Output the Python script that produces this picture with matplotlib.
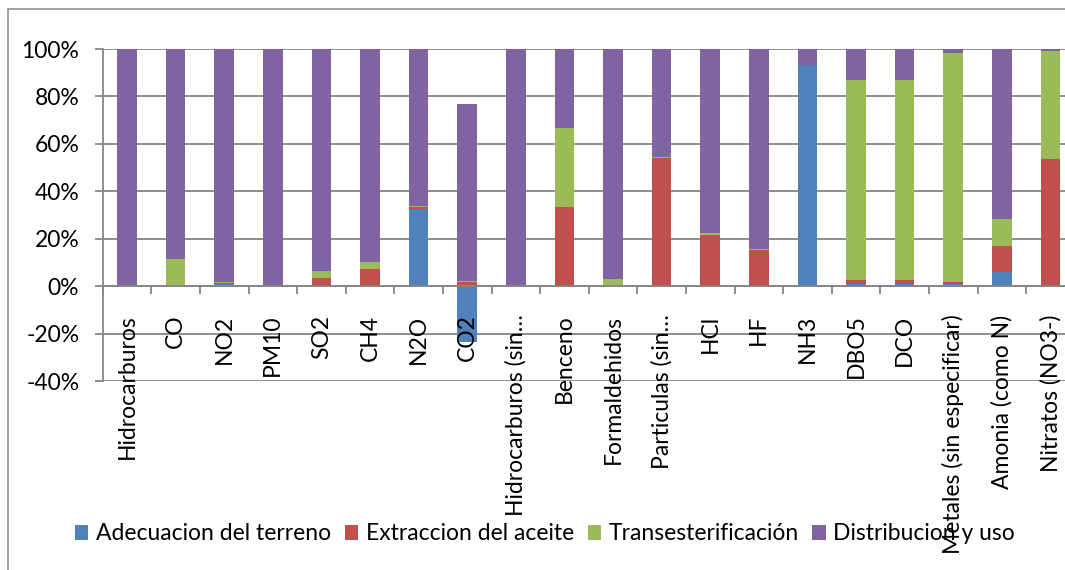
import numpy as np
import matplotlib
matplotlib.use("Agg")
import matplotlib.pyplot as plt
from matplotlib.patches import Rectangle
from matplotlib.ticker import FixedLocator, FuncFormatter

plt.rcParams["font.family"] = ["Lato", "DejaVu Sans"]
plt.rcParams["axes.unicode_minus"] = False

# Share (%) of each emission attributed to each life-cycle stage
categories = [
    "Hidrocarburos", "CO", "NO2", "PM10", "SO2", "CH4", "N2O", "CO2",
    "Hidrocarburos (sin…", "Benceno", "Formaldehidos", "Particulas (sin…",
    "HCl", "HF", "NH3", "DBO5", "DCO", "Metales (sin especificar)",
    "Amonia (como N)", "Nitratos (NO3-)",
]
adecuacion = [0.0, 0.0, 0.7, 0.0, 0.0, 0.0, 32.5, -23.4, 0.0, 0.0,
              0.0, 0.0, 0.0, 0.0, 93.1, 0.8, 0.8, 1.0, 5.9, 0.0]
extraccion = [0.0, 0.0, 0.8, 0.0, 3.4, 7.2, 0.7, 1.7, 0.0, 33.2,
              0.0, 54.2, 21.7, 15.1, 0.0, 1.8, 1.8, 0.6, 11.0, 53.7]
transesterificacion = [0.3, 11.3, 0.3, 0.4, 3.0, 2.8, 0.4, 0.4, 0.2, 33.5,
                       3.1, 0.3, 0.7, 0.4, 0.0, 84.5, 84.5, 96.9, 11.3, 45.6]
distribucion = [99.7, 88.7, 98.2, 99.6, 93.6, 90.0, 66.4, 74.9, 99.8, 33.3,
                96.9, 45.5, 77.6, 84.5, 6.9, 12.9, 12.9, 1.5, 71.8, 0.7]

series_names = ["Adecuacion del terreno", "Extraccion del aceite",
                "Transesterificación", "Distribucion y uso"]
series_colors = ["#4F81BD", "#C0504D", "#9BBB59", "#8064A2"]
y_ticks = [-40, -20, 0, 20, 40, 60, 80, 100]

W, H = 1065, 570
fig = plt.figure(figsize=(W / 100, H / 100), dpi=100)
ax = fig.add_axes([102.7 / W, 1 - 381 / H, 972 / W, 332 / H])

grid_color = "#868686"
lw = 1.3
fs = 16.5

x = np.arange(len(categories))
pos_base = np.zeros(len(categories))
neg_base = np.zeros(len(categories))
bars = []
for name, vals, col in zip(series_names,
                           [adecuacion, extraccion, transesterificacion, distribucion],
                           series_colors):
    v = np.asarray(vals, dtype=float)
    bottom = np.where(v >= 0, pos_base, neg_base)
    b = ax.bar(x, v, width=0.4, bottom=bottom, color=col, label=name,
               zorder=2, linewidth=0)
    bars.append(b)
    pos_base += np.clip(v, 0, None)
    neg_base += np.clip(v, None, 0)

ax.set_xlim(-0.5, len(categories) - 0.5)
ax.set_ylim(-40, 100)

# horizontal gridlines behind the bars; axis labels stay on top
for yv in y_ticks:
    ax.axhline(yv, color=grid_color, linewidth=lw, zorder=0.5)
ax.set_axisbelow(False)

# y axis: percent tick labels
ax.yaxis.set_major_locator(FixedLocator(y_ticks))
ax.yaxis.set_major_formatter(FuncFormatter(lambda v, p: f"{v:.0f}%"))
ax.tick_params(axis="y", direction="out", length=5.5, width=lw,
               color=grid_color, pad=11.3, labelsize=fs)

# category axis sits on the zero line
ax.spines["bottom"].set_position(("data", 0))
for s in ("top", "right"):
    ax.spines[s].set_visible(False)
for s in ("left", "bottom"):
    ax.spines[s].set_color(grid_color)
    ax.spines[s].set_linewidth(lw)

ax.set_xticks(x)
ax.set_xticklabels(categories, rotation=90, ha="center", va="top")
ax.set_xticks(np.arange(len(categories) + 1) - 0.5, minor=True)
ax.tick_params(axis="x", which="major", length=0, pad=20.5, labelsize=fs)
ax.tick_params(axis="x", which="minor", direction="out", length=5.5,
               width=lw, color=grid_color)

leg = ax.legend(handles=bars, labels=series_names, loc="center",
                bbox_to_anchor=(545 / W, 1 - 534 / H),
                bbox_transform=fig.transFigure, ncol=4, frameon=False,
                fontsize=fs, handlelength=0.58, handleheight=0.58,
                handletextpad=0.33, columnspacing=0.6, borderpad=0)
leg.set_zorder(1)

# chart-area outline
fig.add_artist(Rectangle((8 / W, -0.2), 1.2, 1.2 - 9 / H,
                         transform=fig.transFigure, fill=False,
                         edgecolor=grid_color, linewidth=1.1))

fig.savefig("out.png", dpi=100)
